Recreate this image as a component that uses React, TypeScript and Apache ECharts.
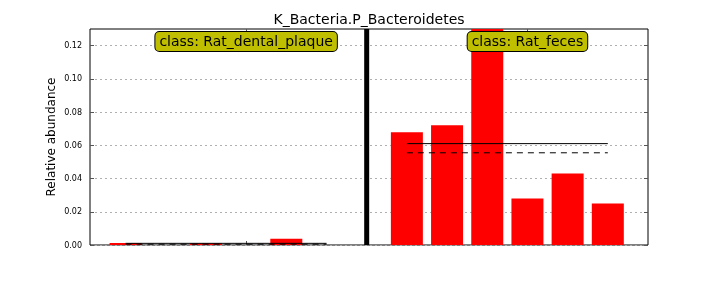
import React, { useEffect, useRef } from "react";
import * as echarts from "echarts";

const TITLE = "K_Bacteria.P_Bacteroidetes";
const Y_LABEL = "Relative abundance";
const CLASS_NAMES = ["Rat_dental_plaque", "Rat_feces"];
// sample positions (x units) and relative abundance per class
const DENTAL_X = [0, 1, 2, 3, 4, 5];
const DENTAL_VALUES = [0.0012, 0, 0.001, 0, 0.0038, 0];
const FECES_X = [7, 8, 9, 10, 11, 12];
const FECES_VALUES = [0.0679, 0.0721, 0.13, 0.028, 0.0431, 0.025];
const DIVIDER_X = 6;
const CLASS_CENTERS = [3, 10];
const Y_TICKS = [0, 0.02, 0.04, 0.06, 0.08, 0.1, 0.12];

const FONT = "DejaVu Sans";

function mean(a: number[]) {
  return a.reduce((s, v) => s + v, 0) / a.length;
}
function median(a: number[]) {
  const s = [...a].sort((x, y) => x - y);
  const m = Math.floor(s.length / 2);
  return s.length % 2 ? s[m] : (s[m - 1] + s[m]) / 2;
}

export default function App() {
  const ref = useRef<HTMLDivElement>(null);
  useEffect(() => {
    if (!ref.current) return;
    const chart = echarts.init(ref.current, undefined, { renderer: "svg" });
    const yMax = 0.13;
    const groups = [
      { xs: DENTAL_X, vals: DENTAL_VALUES },
      { xs: FECES_X, vals: FECES_VALUES },
    ];
    const lineSeries: any[] = [];
    groups.forEach((g) => {
      const mu = mean(g.vals);
      const md = median(g.vals);
      const x0 = g.xs[0];
      const x1 = g.xs[g.xs.length - 1];
      lineSeries.push({
        type: "line",
        data: [[x0, mu], [x1, mu]],
        symbol: "none",
        lineStyle: { color: "#000", width: 1 },
        z: 5,
      });
      lineSeries.push({
        type: "line",
        data: [[x0, md], [x1, md]],
        symbol: "none",
        lineStyle: { color: "#000", width: 1, type: [6, 5] },
        z: 5,
      });
    });
    const barData = [
      ...DENTAL_X.map((x, i) => [x, DENTAL_VALUES[i]]),
      ...FECES_X.map((x, i) => [x, FECES_VALUES[i]]),
    ];
    const labelY = 0.1225;
    const tickStyle = { color: "#555" };
    chart.setOption({
      animation: false,
      textStyle: { fontFamily: FONT },
      grid: {
        left: 90,
        width: 558,
        top: 29,
        height: 216,
        show: true,
        borderColor: "#000",
        borderWidth: 1,
        backgroundColor: "transparent",
      },
      xAxis: [
        {
          type: "value",
          min: -0.885,
          max: 13,
          position: "bottom",
          axisLine: { show: false, onZero: false },
          axisLabel: { show: false },
          splitLine: { show: false },
          axisTick: {
            show: true,
            inside: true,
            length: 4,
            customValues: CLASS_CENTERS,
            lineStyle: tickStyle,
          },
        },
        {
          type: "value",
          min: -0.885,
          max: 13,
          position: "top",
          axisLine: { show: false, onZero: false },
          axisLabel: { show: false },
          splitLine: { show: false },
          axisTick: {
            show: true,
            inside: true,
            length: 4,
            customValues: CLASS_CENTERS,
            lineStyle: tickStyle,
          },
        },
      ],
      yAxis: [
        {
          type: "value",
          min: 0,
          max: yMax,
          interval: 0.02,
          position: "left",
          axisLine: { show: false, onZero: false },
          axisTick: {
            show: true,
            inside: true,
            length: 4,
            customValues: Y_TICKS,
            lineStyle: tickStyle,
          },
          axisLabel: {
            customValues: Y_TICKS,
            formatter: (v: number) => v.toFixed(2),
            fontSize: 8,
            fontFamily: FONT,
            color: "#000",
            margin: 8,
          },
          splitLine: {
            show: true,
            lineStyle: { color: "#b0b0b0", type: [2, 3], width: 1 },
          },
        },
        {
          type: "value",
          min: 0,
          max: yMax,
          interval: 0.02,
          position: "right",
          axisLine: { show: false, onZero: false },
          axisLabel: { show: false },
          splitLine: { show: false },
          axisTick: {
            show: true,
            inside: true,
            length: 4,
            customValues: Y_TICKS,
            lineStyle: tickStyle,
          },
        },
      ],
      series: [
        {
          type: "bar",
          data: barData,
          barWidth: 32,
          itemStyle: { color: "#ff0000" },
          z: 2,
        },
        {
          type: "line",
          data: [[DIVIDER_X, 0], [DIVIDER_X, yMax]],
          symbol: "none",
          lineStyle: { color: "#000", width: 5 },
          z: 6,
        },
        ...lineSeries,
        {
          type: "scatter",
          symbolSize: 0,
          data: CLASS_CENTERS.map((x) => [x, labelY]),
          z: 10,
          itemStyle: { opacity: 1 },
          label: {
            show: true,
            position: "inside",
            opacity: 1,
            formatter: (p: any) => "class: " + CLASS_NAMES[p.dataIndex],
            fontSize: 14,
            fontFamily: FONT,
            color: "#000",
            backgroundColor: "#bfbf00",
            borderColor: "#000",
            borderWidth: 1,
            borderRadius: 4,
            padding: [3, 4, 2, 4],
          },
        },
      ],
      graphic: [
        {
          type: "text",
          x: 369,
          y: 19,
          style: {
            text: TITLE,
            fontSize: 14,
            fontFamily: FONT,
            fill: "#000",
            textAlign: "center",
            textVerticalAlign: "middle",
          },
        },
        {
          type: "text",
          x: 51,
          y: 137,
          rotation: Math.PI / 2,
          style: {
            text: Y_LABEL,
            fontSize: 12,
            fontFamily: FONT,
            fill: "#000",
            textAlign: "center",
            textVerticalAlign: "middle",
          },
        },
      ],
    });
    return () => chart.dispose();
  }, []);
  return (
    <div
      ref={ref}
      style={{ position: "fixed", left: 0, top: 0, width: 720, height: 288 }}
    />
  );
}
